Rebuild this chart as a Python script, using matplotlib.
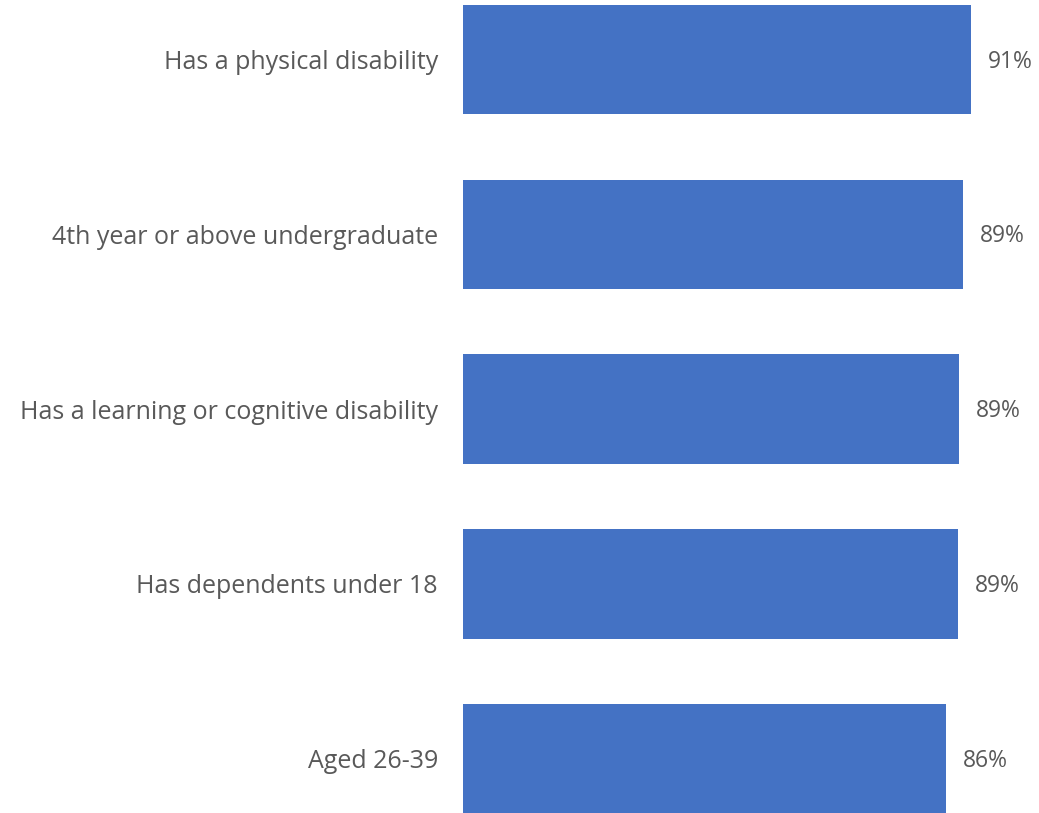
import matplotlib
matplotlib.use("Agg")
import matplotlib.pyplot as plt

categories = ["Has a physical disability", "4th year or above undergraduate",
              "Has a learning or cognitive disability", "Has dependents under 18",
              "Aged 26-39"]
values = [0.91, 0.896, 0.889, 0.887, 0.866]
labels = ["91%", "89%", "89%", "89%", "86%"]

plt.rcParams['font.family'] = ['Open Sans', 'DejaVu Sans']
text_color = "#595959"
bar_color = "#4472C4"

fig = plt.figure(figsize=(10.39, 8.13), dpi=100)
ax = fig.add_axes([463/1039, 0, (1039-463)/1039, 1])
y = list(range(len(categories)))
ax.barh(y, values, height=0.625, color=bar_color)
ax.set_ylim(4.31, -0.34)
ax.set_xlim(0, 1.032)
ax.set_yticks(y)
ax.set_yticklabels(categories, fontsize=18, color=text_color)
ax.tick_params(axis='y', length=0, pad=18)
ax.set_xticks([])
for s in ax.spines.values():
    s.set_visible(False)
for yi, v, lab in zip(y, values, labels):
    ax.annotate(lab, xy=(v, yi), xytext=(12, -1.5), textcoords='offset points',
                ha='left', va='center', fontsize=16.5, color=text_color)

fig.savefig("out.png", dpi=100)
